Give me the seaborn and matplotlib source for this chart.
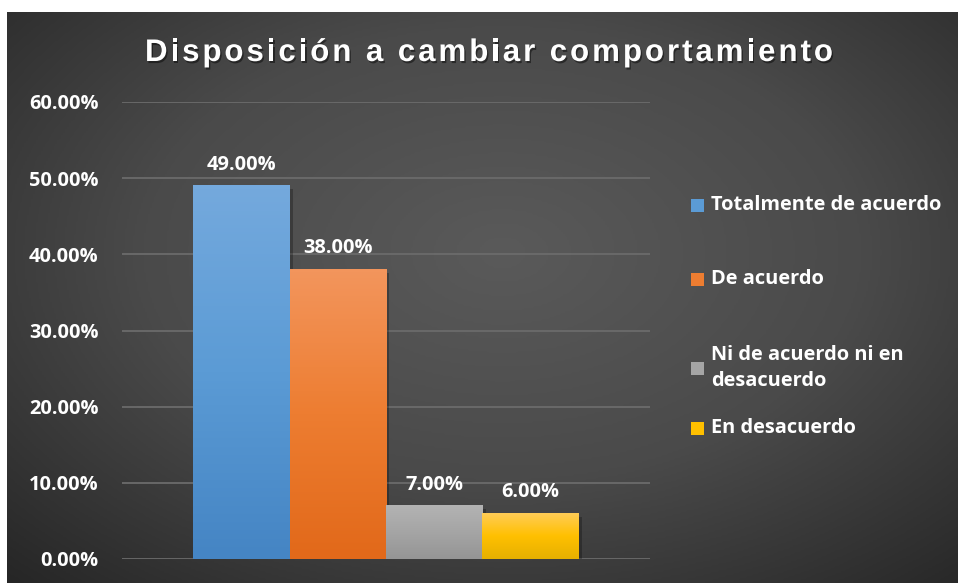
import numpy as np
import pandas as pd
import matplotlib.pyplot as plt
import matplotlib.colors as mcolors
import matplotlib.patheffects as pe
from matplotlib.patches import Rectangle
from matplotlib.font_manager import FontProperties
import seaborn as sns

# datos
categorias = ["Totalmente de acuerdo", "De acuerdo",
              "Ni de acuerdo ni en desacuerdo", "En desacuerdo"]
etiquetas_leyenda = ["Totalmente de acuerdo", "De acuerdo",
                     "Ni de acuerdo ni en\ndesacuerdo", "En desacuerdo"]
valores = [0.49, 0.38, 0.07, 0.06]
yticks = [0.0, 0.1, 0.2, 0.3, 0.4, 0.5, 0.6]
titulo = "Disposición a cambiar comportamiento"

color_arriba = ["#74a9dd", "#f3955c", "#b3b3b3", "#ffcc55"]
color_medio = ["#5b9bd5", "#ed7d31", "#a5a5a5", "#ffc000"]
color_abajo = ["#4585c4", "#e2691a", "#959595", "#e6b000"]

W, H = 958, 583
FS = 14.4
sns.set_theme(style="dark")
plt.rcParams['font.family'] = ['Open Sans', 'DejaVu Sans']
plt.rcParams['font.weight'] = 'bold'

fig = plt.figure(figsize=(W / 100, H / 100), dpi=100)
fig.patch.set_facecolor('white')

# fondo con degradado radial
bg = fig.add_axes([7 / W, 0, (W - 7) / W, (H - 12) / H], zorder=0)
bh, bw = 300, 500
yy, xx = np.mgrid[0:bh, 0:bw]
r = np.sqrt(((xx - 0.52 * bw) / bw) ** 2 + ((yy - 0.42 * bh) / bh) ** 2 * 0.9)
cmap_bg = mcolors.LinearSegmentedColormap.from_list("bg", ["#5a5a5a", "#4a4a4a", "#262626"])
bg.imshow(r / r.max(), cmap=cmap_bg, aspect='auto', interpolation='bilinear')
bg.axis('off')

# area del grafico
x0, x1, y0, y1 = 122, 650, 559, 102
ax = fig.add_axes([x0 / W, (H - y0) / H, (x1 - x0) / W, (y0 - y1) / H], zorder=1)
ax.patch.set_alpha(0)

df = pd.DataFrame({"grupo": [""] * 4, "respuesta": categorias, "valor": valores})
sns.barplot(data=df, x="grupo", y="valor", hue="respuesta", hue_order=categorias,
            palette=color_medio, width=0.73, saturation=1, legend=False, ax=ax)

for i, bar in enumerate(ax.patches):
    bx, by = bar.get_x(), bar.get_y()
    bw_, bh_ = bar.get_width(), bar.get_height()
    bar.set_edgecolor('none')
    bar.set_path_effects([pe.SimplePatchShadow(offset=(2.5, -2.5), shadow_rgbFace='black', alpha=0.25),
                          pe.Normal()])
    grad = mcolors.LinearSegmentedColormap.from_list(
        f"g{i}", [color_arriba[i], color_medio[i], color_abajo[i]])
    img = np.linspace(0, 1, 64).reshape(-1, 1)
    ax.imshow(img, cmap=grad, extent=(bx, bx + bw_, by, by + bh_), origin='upper',
              aspect='auto', zorder=3, interpolation='bilinear')

ax.set_xlim(-0.5, 0.5)
ax.set_ylim(0, 0.6)
ax.set_yticks(yticks)
ax.set_yticklabels([f"{t * 100:.2f}%" for t in yticks], color='white',
                   fontsize=FS, fontweight='bold')
ax.tick_params(axis='y', length=0, pad=17)
ax.set_xticks([])
ax.set_xlabel("")
ax.set_ylabel("")
for s in ax.spines.values():
    s.set_visible(False)
ax.grid(axis='y', color='#6b6b6b', linewidth=1.3)
ax.set_axisbelow(True)

for cont in ax.containers:
    ax.bar_label(cont, labels=[f"{v * 100:.2f}%" for v in cont.datavalues],
                 padding=8, color='white', fontsize=FS, fontweight='bold')

# titulo con espaciado entre letras
renderer = fig.canvas.get_renderer()
fp = FontProperties(family=['Liberation Sans', 'DejaVu Sans'], size=22.5, weight='bold')
def ancho(s):
    return renderer.get_text_width_height_descent(s, fp, ismath=False)[0]
natural = ancho(titulo + "x") - ancho("x")
esp = (688 - natural) / (len(titulo) - 1)
xs = 145
sombra = [pe.withSimplePatchShadow(offset=(1, -1.5), shadow_rgbFace='black', alpha=0.45)]
for i, ch in enumerate(titulo):
    off = ancho(titulo[:i] + "x") - ancho("x") if i else 0
    fig.text((xs + off + esp * i) / W, (H - 61) / H, ch, color='white',
             fontproperties=fp, ha='left', va='baseline', zorder=5,
             path_effects=sombra)

# leyenda
ley_y = [205, 279, 368, 428]
for lab, c, yc in zip(etiquetas_leyenda, color_medio, ley_y):
    fig.patches.append(Rectangle((691 / W, (H - yc - 7) / H), 13 / W, 13 / H,
                                 transform=fig.transFigure, facecolor=c,
                                 edgecolor='none', zorder=5))
    fig.text(711 / W, (H - yc) / H, lab, color='white', fontsize=FS,
             fontweight='bold', ha='left', va='center', linespacing=1.35, zorder=5)

fig.savefig("out.png", dpi=100)
